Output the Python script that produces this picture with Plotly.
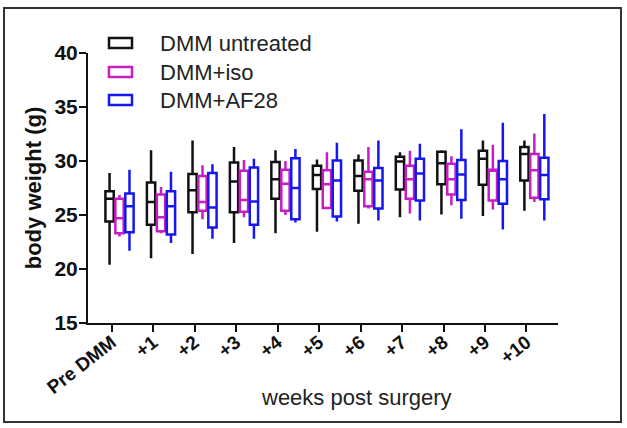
import plotly.graph_objects as go

categories = ["Pre DMM", "+1", "+2", "+3", "+4", "+5", "+6", "+7", "+8", "+9", "+10"]
series_names = ["DMM untreated", "DMM+iso", "DMM+AF28"]

untreated_lower = [20.4, 21.0, 21.4, 22.4, 23.3, 23.45, 24.2, 24.8, 25.05, 24.9, 25.4]
untreated_q1 = [24.4, 24.1, 25.25, 25.25, 26.5, 27.4, 27.25, 27.35, 27.85, 27.8, 28.2]
untreated_median = [26.5, 26.2, 27.3, 28.1, 28.3, 28.7, 28.6, 29.95, 29.8, 30.2, 30.65]
untreated_q3 = [27.2, 28.0, 28.8, 29.85, 29.9, 29.55, 30.05, 30.4, 30.85, 30.95, 31.3]
untreated_upper = [28.9, 31.0, 31.9, 31.3, 31.0, 30.15, 30.6, 30.8, 31.0, 31.9, 31.9]

iso_lower = [23.0, 23.3, 24.6, 24.8, 25.0, 25.55, 25.6, 25.15, 25.9, 25.5, 26.2]
iso_q1 = [23.3, 23.5, 25.4, 25.3, 25.4, 25.65, 25.8, 26.5, 26.9, 26.35, 26.6]
iso_median = [24.7, 24.8, 26.2, 26.4, 27.9, 27.85, 28.3, 28.3, 28.3, 29.15, 29.15]
iso_q3 = [26.5, 26.9, 28.6, 29.1, 29.2, 29.15, 29.0, 29.55, 29.75, 29.2, 30.65]
iso_upper = [26.85, 27.6, 29.6, 30.1, 30.0, 30.8, 31.3, 30.95, 30.45, 31.5, 32.55]

af28_lower = [21.7, 22.4, 22.8, 22.8, 24.3, 24.4, 24.5, 24.5, 24.65, 23.65, 24.5]
af28_q1 = [23.4, 23.2, 23.85, 24.1, 24.6, 24.85, 25.6, 26.35, 26.4, 26.05, 26.45]
af28_median = [25.8, 25.8, 25.7, 26.25, 27.5, 28.2, 28.2, 28.85, 28.75, 28.3, 28.7]
af28_q3 = [27.0, 27.2, 28.9, 29.4, 30.25, 30.05, 29.35, 30.2, 30.1, 30.0, 30.3]
af28_upper = [29.2, 29.0, 29.7, 30.2, 31.1, 31.7, 31.9, 31.6, 32.95, 33.55, 34.35]

y_ticks = [15, 20, 25, 30, 35, 40]

colors = ["#111111", "#C41EC4", "#1616EE"]
offsets = [-0.05, 0.19, 0.43]
FONT = "Liberation Sans, Arial, sans-serif"

stats = [
    (untreated_lower, untreated_q1, untreated_median, untreated_q3, untreated_upper),
    (iso_lower, iso_q1, iso_median, iso_q3, iso_upper),
    (af28_lower, af28_q1, af28_median, af28_q3, af28_upper),
]

fig = go.Figure()
positions = list(range(len(categories)))
for name, color, off, (lo, q1, md, q3, up) in zip(series_names, colors, offsets, stats):
    fig.add_trace(go.Box(
        name=name,
        x=[p + off for p in positions],
        lowerfence=lo, q1=q1, median=md, q3=q3, upperfence=up,
        width=0.2,
        whiskerwidth=0,
        fillcolor="white",
        line=dict(color=color, width=2.5),
        boxpoints=False,
        showlegend=False,
        hoverinfo="skip",
    ))

# plot-area geometry (pixels) used to place decorations
L, R, T, B = 88, 69, 53, 105
W, H = 627, 428
pw, ph = W - L - R, H - T - B

def px(x):
    return (x - L) / pw

def py(y):
    return (H - B - y) / ph

shapes = [dict(type="rect", xref="paper", yref="paper",
               x0=px(4), x1=px(621), y0=py(8), y1=py(422),
               line=dict(color="#333333", width=2), layer="below")]
annotations = []
legend_rows = [43, 72, 100]
for name, color, ry in zip(series_names, colors, legend_rows):
    shapes.append(dict(type="rect", xref="paper", yref="paper",
                       x0=px(109), x1=px(132), y0=py(ry + 5), y1=py(ry - 5),
                       line=dict(color=color, width=2.5), fillcolor="white"))
    annotations.append(dict(xref="paper", yref="paper", x=px(158), y=py(ry),
                            xanchor="left", yanchor="middle", showarrow=False,
                            text=name, font=dict(family=FONT, size=22, color="#222222")))
# x-axis title
annotations.append(dict(xref="paper", yref="paper", x=px(356), y=py(397),
                        xanchor="center", yanchor="middle", showarrow=False,
                        text="weeks post surgery",
                        font=dict(family=FONT, size=22, color="#222222")))

fig.update_layout(
    width=W, height=H, autosize=False,
    margin=dict(l=L, r=R, t=T, b=B, pad=0),
    paper_bgcolor="white", plot_bgcolor="white",
    boxmode="overlay",
    shapes=shapes, annotations=annotations,
    font=dict(family=FONT, color="#111111"),
)
fig.update_xaxes(
    range=[-0.57, 10.76], tickmode="array", tickvals=positions, ticktext=categories,
    tickangle=-38, ticks="outside", ticklen=7, tickwidth=2, tickcolor="#111111",
    ticklabelstandoff=-8,
    showline=True, linecolor="#111111", linewidth=2, showgrid=False, zeroline=False,
    tickfont=dict(family=FONT, size=19, weight="bold", color="#111111"),
    automargin=False,
)
fig.update_yaxes(
    range=[15, 40], tickmode="array", tickvals=y_ticks,
    ticks="outside", ticklen=7, tickwidth=2, tickcolor="#111111",
    ticklabelstandoff=-3,
    showline=True, linecolor="#111111", linewidth=2, showgrid=False, zeroline=False,
    tickfont=dict(family=FONT, size=21, weight="bold", color="#111111"),
    title=dict(text="body weight (g)", standoff=7,
               font=dict(family=FONT, size=22, weight="bold", color="#111111")),
    automargin=False,
)

fig.write_html("out.html", config={"displayModeBar": False},
               post_script="document.body.style.margin='0';")
